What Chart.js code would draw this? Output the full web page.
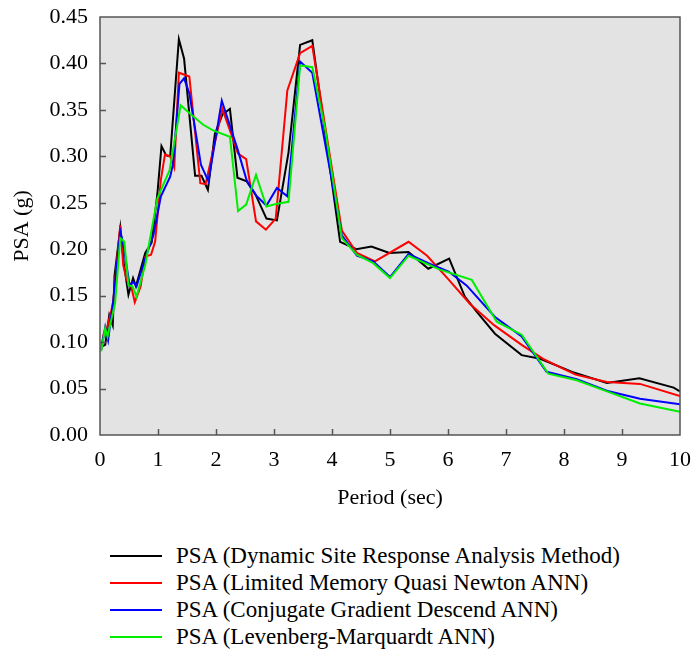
<!DOCTYPE html>
<html>
<head>
<meta charset="utf-8">
<title>PSA vs Period</title>
<script src="https://cdn.jsdelivr.net/npm/chart.js@4.4.1/dist/chart.umd.min.js"></script>
<style>
  body { margin: 0; background: #fff; font-family: "Liberation Serif", "Times New Roman", serif; }
  #wrap { position: relative; width: 692px; height: 530px; }
  #legend { position: absolute; left: 110px; top: 542px; }
  .row { display: flex; align-items: center; height: 27px; font-size: 23px; color: #000; white-space: nowrap; }
  .swatch { width: 52px; height: 2px; margin-right: 14px; }
</style>
</head>
<body>
<div id="wrap"><canvas id="psaChart"></canvas></div>
<div id="legend"></div>
<script>
// --- Data ---
const dsraPeriod = [0.02, 0.09, 0.16, 0.22, 0.25, 0.35, 0.41, 0.49, 0.57, 0.62, 0.78, 0.89, 0.99, 1.06, 1.14, 1.21, 1.36, 1.45, 1.64, 1.75, 1.86, 1.98, 2.11, 2.24, 2.37, 2.53, 2.68, 2.87, 3.05, 3.25, 3.45, 3.66, 4.14, 4.42, 4.68, 4.99, 5.32, 5.66, 6.02, 6.29, 6.49, 6.81, 7.27, 7.59, 8.14, 8.74, 9.30, 9.89, 10.0];
const dsraPsa = [0.095, 0.097, 0.129, 0.118, 0.171, 0.223, 0.185, 0.151, 0.169, 0.160, 0.196, 0.207, 0.260, 0.311, 0.301, 0.300, 0.426, 0.405, 0.279, 0.279, 0.264, 0.324, 0.345, 0.351, 0.277, 0.273, 0.259, 0.233, 0.231, 0.304, 0.420, 0.425, 0.208, 0.200, 0.203, 0.196, 0.197, 0.179, 0.190, 0.149, 0.133, 0.109, 0.086, 0.082, 0.068, 0.056, 0.061, 0.051, 0.047];

const lmqnPeriod = [0.02, 0.06, 0.12, 0.20, 0.23, 0.35, 0.40, 0.46, 0.53, 0.60, 0.70, 0.78, 0.88, 0.95, 1.05, 1.12, 1.21, 1.28, 1.36, 1.54, 1.73, 1.82, 2.11, 2.38, 2.52, 2.69, 2.86, 3.03, 3.23, 3.45, 3.66, 4.17, 4.43, 4.74, 5.32, 5.64, 6.00, 6.38, 6.80, 7.27, 7.64, 7.93, 8.20, 8.74, 9.31, 10.0];
const lmqnPsa = [0.092, 0.108, 0.115, 0.135, 0.145, 0.226, 0.183, 0.167, 0.162, 0.143, 0.160, 0.192, 0.194, 0.208, 0.275, 0.302, 0.300, 0.288, 0.390, 0.386, 0.271, 0.270, 0.351, 0.303, 0.297, 0.230, 0.221, 0.233, 0.371, 0.411, 0.419, 0.220, 0.196, 0.187, 0.208, 0.193, 0.168, 0.141, 0.118, 0.097, 0.082, 0.073, 0.065, 0.057, 0.055, 0.042];

const cgdPeriod = [0.02, 0.09, 0.14, 0.23, 0.35, 0.40, 0.51, 0.57, 0.63, 0.78, 0.92, 1.05, 1.21, 1.26, 1.37, 1.45, 1.54, 1.74, 1.87, 2.10, 2.37, 2.53, 2.69, 2.87, 3.05, 3.23, 3.45, 3.66, 4.17, 4.43, 4.71, 5.00, 5.32, 5.66, 6.01, 6.32, 6.81, 7.27, 7.70, 8.22, 8.77, 9.31, 10.0];
const cgdPsa = [0.092, 0.116, 0.102, 0.145, 0.219, 0.206, 0.161, 0.165, 0.160, 0.190, 0.215, 0.257, 0.278, 0.292, 0.378, 0.384, 0.368, 0.291, 0.273, 0.360, 0.308, 0.274, 0.258, 0.247, 0.266, 0.257, 0.402, 0.390, 0.215, 0.193, 0.187, 0.170, 0.195, 0.185, 0.176, 0.161, 0.127, 0.106, 0.068, 0.060, 0.047, 0.039, 0.033];

const lmPeriod = [0.02, 0.09, 0.13, 0.26, 0.35, 0.42, 0.49, 0.56, 0.63, 0.78, 0.99, 1.20, 1.39, 1.55, 1.78, 1.95, 2.24, 2.38, 2.52, 2.69, 2.87, 3.05, 3.25, 3.45, 3.66, 3.88, 4.17, 4.43, 4.71, 5.00, 5.32, 5.86, 6.41, 6.84, 7.27, 7.73, 8.22, 8.74, 9.31, 10.0];
const lmPsa = [0.090, 0.115, 0.106, 0.142, 0.212, 0.208, 0.161, 0.160, 0.149, 0.183, 0.255, 0.285, 0.355, 0.346, 0.334, 0.328, 0.321, 0.241, 0.248, 0.280, 0.246, 0.249, 0.251, 0.398, 0.396, 0.330, 0.212, 0.194, 0.185, 0.169, 0.193, 0.178, 0.167, 0.122, 0.108, 0.066, 0.059, 0.047, 0.034, 0.025];

const seriesLabels = [
  'PSA (Dynamic Site Response Analysis Method)',
  'PSA (Limited Memory Quasi Newton ANN)',
  'PSA (Conjugate Gradient Descend ANN)',
  'PSA (Levenberg-Marquardt ANN)',
];
const seriesColors = ['#000000', '#ff0000', '#0000ff', '#00ee00'];

const FONT = { family: "'Liberation Serif', 'Times New Roman', serif", size: 22 };

function toPoints(xs, ys) {
  return xs.map((x, i) => ({ x: x, y: ys[i] }));
}

// grey plot box, dark frame and inward tick marks
const framePlugin = {
  id: 'frame',
  beforeDraw(chart) {
    const { ctx, chartArea: a } = chart;
    ctx.save();
    ctx.fillStyle = '#e3e3e3';
    ctx.fillRect(a.left, a.top, a.right - a.left, a.bottom - a.top);
    ctx.restore();
  },
  afterDraw(chart) {
    const { ctx, chartArea: a, scales } = chart;
    ctx.save();
    ctx.strokeStyle = '#555';
    ctx.lineWidth = 1.5;
    ctx.strokeRect(a.left, a.top, a.right - a.left, a.bottom - a.top);
    ctx.beginPath();
    scales.x.ticks.forEach(t => {
      if (t.value <= scales.x.min || t.value >= scales.x.max) return;
      const px = Math.round(scales.x.getPixelForValue(t.value)) + 0.5;
      ctx.moveTo(px, a.bottom);
      ctx.lineTo(px, a.bottom - 6);
    });
    scales.y.ticks.forEach(t => {
      if (t.value <= scales.y.min + 1e-9 || t.value >= scales.y.max - 1e-9) return;
      const py = Math.round(scales.y.getPixelForValue(t.value)) + 0.5;
      ctx.moveTo(a.left, py);
      ctx.lineTo(a.left + 6, py);
    });
    ctx.stroke();
    ctx.restore();
  },
};

const datasets = [
  toPoints(dsraPeriod, dsraPsa),
  toPoints(lmqnPeriod, lmqnPsa),
  toPoints(cgdPeriod, cgdPsa),
  toPoints(lmPeriod, lmPsa),
].map((data, i) => ({
  label: seriesLabels[i],
  data: data,
  borderColor: seriesColors[i],
  backgroundColor: seriesColors[i],
  borderWidth: 2,
  pointRadius: 0,
  tension: 0,
  fill: false,
  order: 4 - i,
}));

const chart = new Chart(document.getElementById('psaChart'), {
  type: 'line',
  data: { datasets },
  options: {
    responsive: true,
    maintainAspectRatio: false,
    animation: false,
    layout: { padding: { top: 17, right: 12, left: 0, bottom: 0 } },
    plugins: {
      legend: { display: false },
      tooltip: { enabled: false },
    },
    scales: {
      x: {
        type: 'linear',
        min: 0,
        max: 10,
        ticks: { stepSize: 1, padding: 12, color: '#000', font: FONT, maxRotation: 0 },
        grid: { display: false, drawTicks: false },
        border: { display: false },
        title: { display: true, text: 'Period (sec)', color: '#000', font: FONT, padding: { top: 0, bottom: 19 } },
        afterFit(scale) {
          scale.height = 95;
          scale.paddingLeft = 0;
          scale.paddingRight = 0;
        },
      },
      y: {
        min: 0,
        max: 0.45,
        ticks: {
          stepSize: 0.05,
          padding: 12,
          color: '#000',
          font: FONT,
          callback: v => v.toFixed(2),
        },
        grid: { display: false, drawTicks: false },
        border: { display: false },
        title: { display: true, text: 'PSA (g)', color: '#000', font: FONT, padding: { top: 9, bottom: 0 } },
        afterFit(scale) {
          scale.width = 100;
          scale.paddingTop = 0;
          scale.paddingBottom = 0;
        },
      },
    },
  },
  plugins: [framePlugin],
});

// --- HTML legend (one entry per row, line swatch) ---
const legendEl = document.getElementById('legend');
seriesLabels.forEach((label, i) => {
  const row = document.createElement('div');
  row.className = 'row';
  const sw = document.createElement('span');
  sw.className = 'swatch';
  sw.style.background = seriesColors[i];
  const txt = document.createElement('span');
  txt.textContent = label;
  row.appendChild(sw);
  row.appendChild(txt);
  legendEl.appendChild(row);
});
</script>
</body>
</html>
